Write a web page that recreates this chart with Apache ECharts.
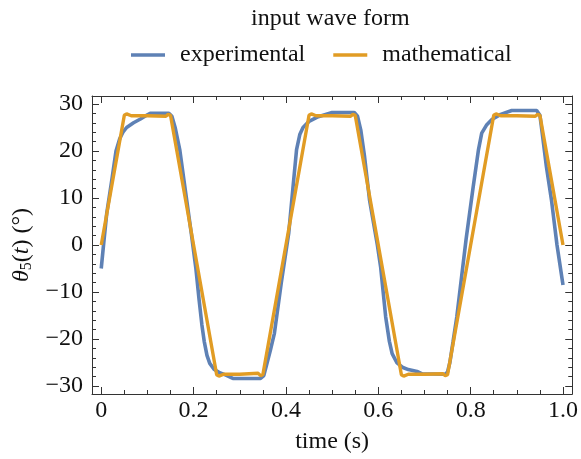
<!DOCTYPE html>
<html>
<head>
<meta charset="utf-8">
<script src="https://cdn.jsdelivr.net/npm/echarts@6/dist/echarts.min.js"></script>
<style>
html,body{margin:0;padding:0;background:#fff;}
#echarts{width:581px;height:459px;}
</style>
</head>
<body>
<div id="echarts"></div>
<script>
"use strict";

// 数据：实验波形
var expT = [0, 0.006, 0.012, 0.023, 0.032, 0.040, 0.047, 0.055, 0.070, 0.085, 0.100, 0.106, 0.147, 0.153, 0.160, 0.170, 0.183, 0.195, 0.205, 0.212, 0.218, 0.223, 0.229, 0.235, 0.245, 0.255, 0.270, 0.285, 0.345, 0.352, 0.357, 0.366, 0.375, 0.390, 0.406, 0.415, 0.423, 0.430, 0.437, 0.450, 0.470, 0.500, 0.548, 0.555, 0.562, 0.570, 0.581, 0.598, 0.605, 0.616, 0.624, 0.630, 0.640, 0.652, 0.665, 0.684, 0.695, 0.745, 0.750, 0.755, 0.762, 0.770, 0.790, 0.805, 0.817, 0.824, 0.835, 0.846, 0.865, 0.889, 0.943, 0.950, 0.955, 0.964, 0.975, 0.987, 1.0];
var expV = [-5, 1, 6.8, 13.9, 20, 22.6, 24, 25, 26, 26.8, 27.7, 28, 28, 27.4, 25, 20.3, 11, 2.5, -5, -11.7, -17, -20.5, -23.5, -25.2, -26.5, -27.1, -27.7, -28.4, -28.4, -27.8, -25.9, -22.5, -18.8, -8, 2.5, 12, 20.3, 23.5, 25, 26.3, 27.3, 28.2, 28.2, 27.4, 24.5, 19, 9.6, 0, -4.6, -15.3, -20.5, -23.1, -25, -26, -26.5, -26.9, -27.4, -27.5, -27, -25, -20.5, -15.3, 1.1, 12, 20.3, 23.8, 25.6, 26.7, 27.8, 28.6, 28.6, 27.6, 23.8, 16.7, 9.6, 0, -8.5];

// 数据：数学波形
var mathT = [0, 0.050, 0.055, 0.065, 0.100, 0.140, 0.145, 0.150, 0.250, 0.255, 0.265, 0.300, 0.340, 0.345, 0.350, 0.450, 0.455, 0.465, 0.500, 0.540, 0.545, 0.550, 0.650, 0.655, 0.665, 0.700, 0.740, 0.745, 0.750, 0.850, 0.855, 0.865, 0.900, 0.940, 0.945, 0.950, 1.0];
var mathV = [0, 27.6, 27.9, 27.5, 27.5, 27.4, 27.8, 27.6, -27.6, -27.9, -27.5, -27.5, -27.3, -27.8, -27.6, 27.6, 27.9, 27.5, 27.5, 27.4, 27.8, 27.6, -27.6, -27.9, -27.5, -27.5, -27.4, -27.8, -27.6, 27.6, 27.9, 27.5, 27.5, 27.4, 27.8, 27.6, 0];

// 刻度
var xTicks = [0, 0.2, 0.4, 0.6, 0.8, 1.0];
var xTickLabels = ['0', '0.2', '0.4', '0.6', '0.8', '1.0'];
var xMinor = [0.05, 0.1, 0.15, 0.25, 0.3, 0.35, 0.45, 0.5, 0.55, 0.65, 0.7, 0.75, 0.85, 0.9, 0.95];
var yTicks = [-30, -20, -10, 0, 10, 20, 30];
var yTickLabels = ['\u221230', '\u221220', '\u221210', '0', '10', '20', '30'];
var yMinor = [-28, -26, -24, -22, -18, -16, -14, -12, -8, -6, -4, -2, 2, 4, 6, 8, 12, 14, 16, 18, 22, 24, 26, 28];

var seriesNames = ['experimental', 'mathematical'];
var FONT = '"Liberation Serif", "Times New Roman", serif';
var FS = 24;
var TXT = '#111';
var FRAME = '#333';

function pairs(t, v){
    var out = [];
    for(var i=0;i<t.length;i++){
        out.push([t[i], v[i]]);
    }
    return out;
}

function xAxisDef(pos, vals, len, showLine, showLabel){
    return {
        type: 'value', position: pos, min: -0.02, max: 1.02,
        axisLine: {show: showLine, onZero: false, lineStyle: {color: FRAME, width: 1}},
        axisTick: {show: true, inside: true, length: len, customValues: vals, lineStyle: {color: FRAME}},
        axisLabel: {
            show: showLabel, customValues: vals, margin: 5,
            fontFamily: FONT, fontSize: FS, color: TXT,
            formatter: function(v){ var i = xTicks.indexOf(v); return i >= 0 ? xTickLabels[i] : ''; }
        },
        splitLine: {show: false}
    };
}

function yAxisDef(pos, vals, len, showLine, showLabel){
    return {
        type: 'value', position: pos, min: -31.7, max: 31.7,
        axisLine: {show: showLine, onZero: false, lineStyle: {color: FRAME, width: 1}},
        axisTick: {show: true, inside: true, length: len, customValues: vals, lineStyle: {color: FRAME}},
        axisLabel: {
            show: showLabel, customValues: vals, margin: 9,
            fontFamily: FONT, fontSize: FS, color: TXT,
            formatter: function(v){ var i = yTicks.indexOf(v); return i >= 0 ? yTickLabels[i] : ''; }
        },
        splitLine: {show: false}
    };
}

var myChart = echarts.init(document.getElementById('echarts'));

var xMain = xAxisDef('bottom', xTicks, 7, true, true);
xMain.name = 'time (s)';
xMain.nameLocation = 'middle';
xMain.nameGap = 36;
xMain.nameTextStyle = {fontFamily: FONT, fontSize: FS, color: TXT};

var yMain = yAxisDef('left', yTicks, 7, true, true);
yMain.name = '{i|\u03b8}{s|5}({i|t}) (\u00b0)';
yMain.nameLocation = 'middle';
yMain.nameGap = 55;
yMain.nameTextStyle = {
    fontFamily: FONT, fontSize: FS, color: TXT,
    rich: {
        i: {fontFamily: FONT, fontSize: FS, fontStyle: 'italic', color: TXT},
        s: {fontFamily: FONT, fontSize: 16, color: TXT, verticalAlign: 'bottom', padding: [10, 0, 0, 0]}
    }
};

var option = {
    backgroundColor: '#fff',
    animation: false,
    title: {
        text: 'input wave form', left: 246, top: 2,
        textStyle: {fontFamily: FONT, fontSize: FS, fontWeight: 'normal', color: TXT}
    },
    legend: {
        data: seriesNames, left: 126, top: 38,
        icon: 'rect', itemWidth: 34, itemHeight: 3.5, itemGap: 28,
        textStyle: {fontFamily: FONT, fontSize: FS, color: TXT, padding: [0, 0, 0, 10]}
    },
    grid: {left: 92, right: 7, top: 96, bottom: 65},
    xAxis: [
        xMain,
        xAxisDef('bottom', xMinor, 4, false, false),
        xAxisDef('top', xTicks, 7, true, false),
        xAxisDef('top', xMinor, 4, false, false)
    ],
    yAxis: [
        yMain,
        yAxisDef('left', yMinor, 4, false, false),
        yAxisDef('right', yTicks, 7, true, false),
        yAxisDef('right', yMinor, 4, false, false)
    ],
    series: [
        {
            name: seriesNames[0], type: 'line', showSymbol: false,
            xAxisIndex: 0, yAxisIndex: 0,
            color: '#5e81b5',
            lineStyle: {width: 3.6, color: '#5e81b5'},
            data: pairs(expT, expV)
        },
        {
            name: seriesNames[1], type: 'line', showSymbol: false,
            xAxisIndex: 0, yAxisIndex: 0,
            color: '#e19c24',
            lineStyle: {width: 3.4, color: '#e19c24'},
            data: pairs(mathT, mathV)
        }
    ]
};
myChart.setOption(option, true);
</script>
</body>
</html>
